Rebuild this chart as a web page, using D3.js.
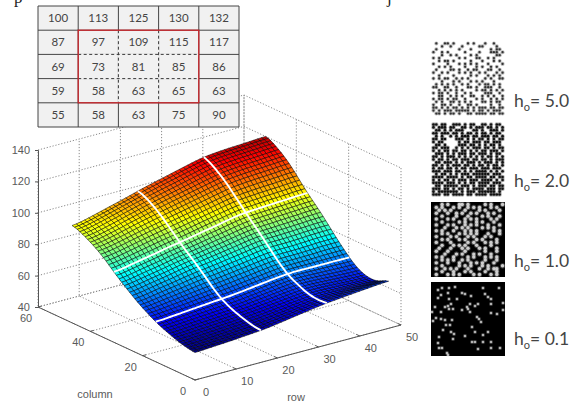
<!DOCTYPE html>
<html>
<head>
<meta charset="utf-8">
<script src="https://cdn.jsdelivr.net/npm/d3@7"></script>
<style>
  html, body { margin: 0; padding: 0; background: #fff; overflow: hidden; }
  svg { display: block; }
</style>
</head>
<body>
<svg id="fig" width="571" height="401"></svg>
<script>
// values printed in the small table
const tableValues = [
  [100, 113, 125, 130, 132],
  [87, 97, 109, 115, 117],
  [69, 73, 81, 85, 86],
  [59, 58, 63, 65, 63],
  [55, 58, 63, 75, 90]
]

// ticks of the 3d box
const zTicks = [40, 60, 80, 100, 120, 140]
const rowTicks = [0, 10, 20, 30, 40, 50]
const colTicks = [0, 20, 40, 60]

// indices of the white lines on the surface
const whiteRows = [16, 32]
const whiteCols = [15, 31]

// surface height, one line per column index, one value per row index
const surface = [
  [57,57,57,58,58,58,58,58,58,59,59,59,59,60,60,60,60,60,61,61,62,62,63,63,64,64,65,65,65,66,66,67,67,67,68,68,68,69,69,69,70,70,70,71,71,71,72,72],
  [57,57,57,58,58,58,58,58,58,59,59,59,59,60,60,60,60,60,61,61,62,62,62,63,63,64,64,65,65,66,66,67,67,67,67,68,68,68,68,69,69,69,69,69,70,70,70,70],
  [58,58,58,58,59,59,59,59,59,59,59,59,60,60,60,60,60,60,61,61,62,62,62,63,63,63,64,64,65,65,65,66,66,66,66,67,67,67,67,67,68,68,68,68,68,69,69,69],
  [58,58,58,59,59,59,59,59,60,60,60,60,60,60,61,61,61,61,62,62,62,62,63,63,63,64,64,64,65,65,65,66,66,66,66,66,66,66,66,66,67,67,67,67,67,67,67,67],
  [58,58,58,59,59,59,59,59,60,60,60,60,60,60,61,61,61,61,62,62,62,62,63,63,63,64,64,64,65,65,65,66,66,66,66,66,66,66,66,66,66,66,66,66,66,66,66,66],
  [59,59,59,60,60,60,60,60,60,61,61,61,61,61,62,62,62,62,62,63,63,63,63,64,64,64,64,65,65,65,65,66,66,66,66,66,66,66,66,66,66,66,66,66,66,66,66,66],
  [59,59,59,60,60,60,60,60,60,61,61,61,61,62,62,62,62,62,63,63,63,63,64,64,64,65,65,65,66,66,66,67,67,67,67,67,67,67,67,66,66,66,66,66,66,66,66,66],
  [60,60,60,61,61,61,61,61,62,62,62,62,62,62,63,63,63,63,63,64,64,64,64,65,65,65,65,66,66,66,66,67,67,67,67,67,67,67,67,67,66,66,66,66,66,66,66,66],
  [60,60,60,61,61,61,61,61,62,62,62,62,62,62,63,63,63,63,64,64,64,64,65,65,65,66,66,66,67,67,67,68,68,68,68,68,68,67,67,67,67,67,67,66,66,66,66,66],
  [61,61,61,62,62,62,62,62,63,63,63,63,63,63,64,64,64,64,64,65,65,65,65,66,66,66,66,67,67,67,67,68,68,68,68,68,68,68,68,68,67,67,67,67,67,67,67,67],
  [62,62,62,62,63,63,63,63,63,63,63,63,64,64,64,64,64,64,65,65,65,65,66,66,66,67,67,67,68,68,68,69,69,69,69,69,69,68,68,68,68,68,68,67,67,67,67,67],
  [62,62,62,63,63,63,63,63,64,64,64,64,64,65,65,65,65,65,65,66,66,66,67,67,67,68,68,68,69,69,69,70,70,70,70,70,70,69,69,69,69,69,69,68,68,68,68,68],
  [63,63,63,64,64,64,64,64,65,65,65,65,65,66,66,66,66,66,66,67,67,67,68,68,68,69,69,69,70,70,70,71,71,71,71,71,71,70,70,70,70,70,70,69,69,69,69,69],
  [64,64,64,65,65,65,65,65,66,66,66,66,66,67,67,67,67,67,67,68,68,68,69,69,69,70,70,70,71,71,71,72,72,72,72,72,72,71,71,71,71,71,71,70,70,70,70,70],
  [64,64,64,65,65,65,65,65,66,66,66,66,66,67,67,67,67,67,67,68,68,68,69,69,69,70,70,70,71,71,71,72,72,72,72,72,72,72,72,72,72,72,72,72,72,72,72,72],
  [65,65,65,66,66,66,66,66,67,67,67,67,67,68,68,68,68,68,68,69,69,69,70,70,70,71,71,71,72,72,72,73,73,73,73,73,73,73,73,73,73,73,73,73,73,73,73,73],
  [66,66,67,67,67,67,68,68,68,68,69,69,69,69,70,70,70,70,70,71,71,71,72,72,72,73,73,73,74,74,74,75,75,75,75,75,75,75,75,75,75,75,75,75,75,75,75,75],
  [67,67,68,68,68,68,69,69,69,69,70,70,70,70,71,71,71,71,71,72,72,72,73,73,73,74,74,74,75,75,75,76,76,76,76,76,76,76,76,76,76,77,77,77,77,77,77,77],
  [68,68,69,69,69,70,70,70,70,71,71,71,72,72,72,73,73,73,73,74,74,74,75,75,75,76,76,76,77,77,77,78,78,78,78,78,78,78,78,78,78,79,79,79,79,79,79,79],
  [69,69,70,70,70,71,71,71,71,72,72,72,73,73,73,74,74,74,75,75,76,76,76,77,77,77,78,78,79,79,79,80,80,80,80,80,80,80,80,80,80,80,80,80,80,80,80,80],
  [70,70,71,71,72,72,72,73,73,73,74,74,75,75,75,76,76,76,76,77,77,77,78,78,78,79,79,79,80,80,80,81,81,81,81,81,81,81,81,81,81,82,82,82,82,82,82,82],
  [71,71,72,72,73,73,74,74,75,75,75,76,76,77,77,78,78,78,78,79,79,79,80,80,80,81,81,81,82,82,82,83,83,83,83,83,83,83,83,83,83,84,84,84,84,84,84,84],
  [72,72,73,73,74,74,75,75,76,76,76,77,77,78,78,79,79,79,79,80,80,81,81,82,82,82,83,83,84,84,85,85,85,85,85,85,85,85,85,85,85,86,86,86,86,86,86,86],
  [73,73,74,75,75,76,76,77,77,77,78,79,79,80,80,81,81,81,81,82,82,83,83,84,84,84,85,85,86,86,87,87,87,87,87,87,87,87,87,87,87,88,88,88,88,88,88,88],
  [75,75,76,77,77,78,78,79,79,79,80,81,81,82,82,83,83,83,83,84,84,85,85,86,86,86,87,87,88,88,89,89,89,89,89,89,89,89,89,89,89,90,90,90,90,90,90,90],
  [76,76,77,78,78,79,79,80,80,80,81,82,82,83,83,84,84,84,84,85,85,86,86,87,87,87,88,88,89,89,90,90,90,90,90,90,90,91,91,91,91,91,91,91,92,92,92,92],
  [77,77,78,79,79,80,80,81,81,81,82,83,83,84,84,85,85,85,86,86,87,87,87,88,88,89,89,90,90,91,91,92,92,92,92,92,92,93,93,93,93,93,93,93,94,94,94,94],
  [79,79,80,81,81,82,82,83,83,83,84,85,85,86,86,87,87,87,88,88,89,89,89,90,90,91,91,92,92,93,93,94,94,94,94,94,94,95,95,95,95,95,95,95,96,96,96,96],
  [80,80,81,82,82,83,83,84,84,84,85,86,86,87,87,88,88,88,89,89,90,90,90,91,91,92,92,93,93,94,94,95,95,95,95,95,95,96,96,96,96,96,96,96,97,97,97,97],
  [81,81,82,83,83,84,84,85,85,85,86,87,87,88,88,89,89,89,90,90,91,92,92,93,93,93,94,95,95,96,96,97,97,97,97,97,97,98,98,98,98,98,98,98,99,99,99,99],
  [83,83,84,85,85,86,86,87,87,87,88,89,89,90,90,91,91,91,92,92,93,94,94,95,95,95,96,97,97,98,98,99,99,99,99,99,99,99,99,99,99,100,100,100,100,100,100,100],
  [84,84,85,86,86,87,87,88,88,88,89,90,90,91,91,92,92,92,93,93,94,95,95,96,96,96,97,98,98,99,99,100,100,100,100,100,100,101,101,101,101,101,101,101,102,102,102,102],
  [86,86,87,88,88,89,89,90,90,90,91,92,92,93,93,94,94,94,95,95,96,97,97,98,98,98,99,100,100,101,101,102,102,102,102,102,102,103,103,103,103,103,103,103,104,104,104,104],
  [87,88,88,89,89,90,90,91,92,92,93,93,94,94,95,95,96,96,97,97,98,99,99,100,100,100,101,102,102,103,103,104,104,104,104,104,104,105,105,105,105,105,105,105,106,106,106,106],
  [89,90,90,91,91,92,92,93,94,94,95,95,96,96,97,97,98,98,99,99,100,101,101,102,102,102,103,104,104,105,105,106,106,106,106,106,106,107,107,107,107,107,107,107,108,108,108,108],
  [90,91,91,92,92,93,93,94,95,95,96,96,97,97,98,98,99,99,100,100,101,101,102,102,103,104,104,105,105,106,106,107,108,108,108,108,108,109,109,109,109,109,109,109,110,110,110,110],
  [92,93,93,94,94,95,95,96,97,97,98,98,99,99,100,100,101,101,102,102,103,103,104,104,105,106,106,107,107,108,108,109,110,110,110,110,110,111,111,111,111,111,111,111,112,112,112,112],
  [93,94,94,95,95,96,96,97,98,98,99,99,100,100,101,101,102,103,103,104,104,105,105,106,107,107,108,108,109,109,110,111,112,112,112,112,112,113,113,113,113,113,113,113,114,114,114,114],
  [94,95,95,96,96,97,98,98,99,100,100,101,102,102,103,103,104,105,105,106,106,107,107,108,108,109,109,110,110,111,111,112,113,113,113,114,114,114,114,114,115,115,115,115,115,116,116,116],
  [95,96,96,97,97,98,99,99,100,101,101,102,103,103,104,104,105,106,106,107,107,108,109,109,110,110,111,112,112,113,113,114,115,115,115,116,116,116,116,116,117,117,117,117,117,118,118,118],
  [96,97,97,98,99,99,100,101,101,102,103,104,104,105,106,106,107,108,108,109,109,110,111,111,112,112,113,114,114,115,115,116,117,117,117,117,117,118,118,118,118,118,118,118,119,119,119,119],
  [97,98,98,99,100,100,101,102,102,103,104,105,105,106,107,107,108,109,109,110,110,111,112,112,113,113,114,115,115,116,116,117,118,118,118,118,118,119,119,119,119,119,119,119,120,120,120,120],
  [98,99,99,100,101,101,102,103,103,104,105,106,106,107,108,108,109,110,110,111,111,112,113,113,114,114,115,116,116,117,117,118,119,119,119,119,119,120,120,120,120,120,120,120,121,121,121,121],
  [99,100,100,101,102,102,103,104,104,105,106,107,107,108,109,109,110,111,111,112,112,113,114,114,115,115,116,117,117,118,118,119,120,120,120,121,121,121,121,121,122,122,122,122,122,123,123,123],
  [100,101,101,102,103,103,104,105,105,106,107,108,108,109,110,110,111,112,112,113,113,114,115,115,116,116,117,118,118,119,119,120,121,121,121,122,122,122,122,122,123,123,123,123,123,124,124,124],
  [100,101,102,102,103,104,104,105,106,107,107,108,109,109,110,111,112,113,113,114,115,115,116,117,117,118,119,119,120,121,121,122,123,123,123,123,123,124,124,124,124,124,124,124,125,125,125,125],
  [101,102,103,103,104,105,105,106,107,108,108,109,110,110,111,112,113,114,114,115,116,116,117,118,118,119,120,120,121,122,122,123,124,124,124,124,124,125,125,125,125,125,125,125,126,126,126,126],
  [102,103,104,104,105,106,106,107,108,109,109,110,111,111,112,113,114,115,115,116,117,117,118,119,119,120,121,121,122,123,123,124,125,125,125,125,125,126,126,126,126,126,126,126,127,127,127,127]
]

// speckle panels, one character per small spot, # is black
const speckle50 = [
  '.#..##.#....#.#...#..#...',
  '...#..#...#.....##....#..',
  '.#.......#...#......#.##.',
  '#..#.#.....#....#...###.#',
  '...#..#.#....#.#......##.',
  '#.#......#.#...##..#.#...',
  '..#.##.#.....#...#...#.#.',
  '#....#...#.#.#.#...#....#',
  '..#.#.#....#...#.#..#.#..',
  '.#....##.#..#.##...##..#.',
  '#..#.#...#.#.#..#.#...#.#',
  '..#....#.....#.#...#.#.#.',
  '#.#.##..#.#.#.....#.#..##',
  '...#...#.#...#.#.#...#...',
  '.#.#.#.#..#.#...#.##.#.#.',
  '##..##..#...##.#..###..#.',
  '..#.#.#.#.#....#.##.#.#.#',
  '#.##.#..#..#.#....###..#.',
  '..##..#.#.#..##..#.#.#..#',
  '#.##.#.##..#...#.#..#.#.#',
  '.#.#..##.#.#.#...##.#.##.',
  '#..##.#..#..##.#....#..#.',
  '##.#.#.##.#.#.#.###.##.##',
  '#.#.###.#####.#.##.#.###.',
  '.##.#.##.#..##.####.##.##'
]
const speckle20 = [
  '##.##..###.#.##..##.#.##.',
  '#.###.##..##.#.###.##.#.#',
  '.##.#.#.###...##.#..###.#',
  '##.###.##.#.##.#.##.#.##.',
  '.#.#..#.#.###.##.###.##.#',
  '##.##...###.#.#.##.#.#.##',
  '#.##.....#.##.###.##.###.',
  '.##.#....###.##.#.#.##.#.',
  '##.###..#.#.#.###.##.#.##',
  '#.#.##.##.##.#.#.##.###.#',
  '.###.#.#.###.##.###.#.##.',
  '##.#.###.#.#.#.#.#.##.#.#',
  '#.##.#.##.###.##.##.#.###',
  '.##.###.#.#.###.#.###.#.#',
  '##.#.#.###.##.#.##.#.##.#',
  '#.##.##.#.##.###.###.###.',
  '###.###.##.#.#.####.#.#.#',
  '.#.##.#.#.###.######.###.',
  '####.####.#.##.####.##.##',
  '#.#.##.#.###.###.####.#.#',
  '####.###.#.#.##.####.###.',
  '.##.#####.###.#.###.##.##',
  '###.##.#.##.#.####.###.##',
  '#.#######.#.###.######.#.',
  '###.##.####.##.####.####.'
]
const speckle10 = [
  '###.#.###..#.#####.#.###.',
  '#.#.###.#.##.#.#.###.#.##',
  '##.#.#.####.####.#.####.#',
  '#.###.##.#.##.#.###.#.###',
  '###.####.###.####.#.###.#',
  '#.###.#.###.#.#.####.#.##',
  '###.#####.#.###.#.###.###',
  '#.###.#.###.#.#.###.###.#',
  '####.###.#.#.####.#.#.###',
  '#.#.###.###.#.#.#####.#.#',
  '###.#.###.#.#.#.###.###.#',
  '#.####.#.###.#.###.#.####',
  '###.#.###.#.###.#.####.##',
  '#.####.#####.#.###.#.#.##',
  '###.###.#.#.###.####.####',
  '##.###.###.#.###.#.###.##',
  '#.###.#####.######.###.##',
  '####.###.#.###.#.###.####',
  '#.#.###.####.#.###.#.#.##',
  '###.#.#.##.#.#####.###.##',
  '#.###.###.###.#.#.###.###',
  '###.#####.#.#.###.#.####.',
  '#.##.#.#.###.###.##.#..##',
  '###.###.###.#.####.###.##',
  '#.###.#.#.####.#.###.#.##'
]

// bright dots of the last panel, in panel pixels
const dots01 = [
  [7,8], [11,6], [18,6], [24,5], [52,6], [68,6], [10,13], [17,11], [31,11], [34,12], [40,14], [54,12],
  [57,15], [60,17], [7,16], [18,17], [26,17], [4,25], [1,30], [14,25], [17,24], [20,22], [22,27], [18,27],
  [10,30], [31,28], [36,25], [39,22], [44,24], [47,22], [37,27], [39,30], [60,22], [72,21], [72,28], [60,31],
  [66,32], [2,39], [5,36], [10,37], [14,38], [21,38], [15,43], [19,43], [46,35], [48,37], [50,40], [41,45],
  [12,48], [20,50], [23,52], [44,50], [57,50], [52,53], [34,54], [22,57], [8,55], [7,61], [41,60], [44,60],
  [52,60], [60,60], [8,66], [11,66], [47,67], [60,66], [69,66], [16,71], [17,73]
]

const speckleLabels = ['5.0', '2.0', '1.0', '0.1']

// the projection of the box, all measured from its front corner
const rowX = d3.scaleLinear().domain([0, 50]).range([0, 206])
const rowY = d3.scaleLinear().domain([0, 50]).range([0, -55])
const colX = d3.scaleLinear().domain([0, 60]).range([0, -157])
const colY = d3.scaleLinear().domain([0, 60]).range([0, -73])
const zY = d3.scaleLinear().domain([40, 140]).range([0, -157])

const jet = d3.scaleLinear()
  .domain([57, 65, 83, 102, 121, 130])
  .range(['#00007f', '#0000ff', '#00ffff', '#ffff00', '#ff0000', '#7f0000'])
  .clamp(true)

const originX = 195
const originY = 380

// the heights above are whole numbers, d3.blur2 takes the rounding steps out of the mesh
const meshSize = surface[0].length
const heights = Float64Array.from(surface.flat())
d3.blur2({ data: heights, width: meshSize }, 1.5)

/**
 * Gives the height to draw at one node of the mesh.
 *
 * @param {number} c The column index
 * @param {number} r The row index
 * @returns {number} The height
 */
function heightAt (c, r) {
  return heights[c * meshSize + r]
}

/**
 * Projects a point of the box on the page.
 *
 * @param {number} r The row
 * @param {number} c The column
 * @param {number} z The height
 * @returns {number[]} The x and y position
 */
function project (r, c, z) {
  return [originX + rowX(r) + colX(c), originY + rowY(r) + colY(c) + zY(z)]
}

/**
 * Draws the dotted walls and floor of the box.
 *
 * @param {*} g The group to draw in
 */
function drawBox (g) {
  const line = d3.line()
  const grid = []
  zTicks.forEach(z => {
    grid.push([project(0, 60, z), project(50, 60, z), project(50, 0, z)])
  })
  rowTicks.forEach(r => {
    grid.push([project(r, 0, 40), project(r, 60, 40), project(r, 60, 140)])
  })
  colTicks.forEach(c => {
    grid.push([project(0, c, 40), project(50, c, 40), project(50, c, 140)])
  })
  g.selectAll('path.grid')
    .data(grid)
    .enter()
    .append('path')
    .attr('class', 'grid')
    .attr('d', line)
    .attr('fill', 'none')
    .attr('stroke', '#8a8a8a')
    .attr('stroke-width', 1)
    .attr('stroke-dasharray', '1.2,1.8')
}

/**
 * Draws the mesh of the surface, from the back corner to the front one.
 *
 * @param {*} g The group to draw in
 */
function drawSurface (g) {
  const cells = []
  for (let c = surface.length - 2; c >= 0; c--) {
    for (let r = meshSize - 2; r >= 0; r--) {
      const corners = [heightAt(c, r), heightAt(c, r + 1), heightAt(c + 1, r + 1), heightAt(c + 1, r)]
      cells.push({
        mean: d3.mean(corners),
        points: [
          project(r, c, corners[0]),
          project(r + 1, c, corners[1]),
          project(r + 1, c + 1, corners[2]),
          project(r, c + 1, corners[3])
        ]
      })
    }
  }
  g.selectAll('path.cell')
    .data(cells)
    .enter()
    .append('path')
    .attr('class', 'cell')
    .attr('d', d => 'M' + d.points.join('L') + 'Z')
    .attr('fill', d => jet(d.mean))
    .attr('stroke', '#000')
    .attr('stroke-opacity', 0.62)
    .attr('stroke-width', 0.85)

  const line = d3.line().curve(d3.curveBasis)
  const paths = []
  whiteCols.forEach(c => {
    paths.push(d3.range(meshSize).map(r => project(r, c, heightAt(c, r))))
  })
  whiteRows.forEach(r => {
    paths.push(d3.range(surface.length).map(c => project(r, c, heightAt(c, r))))
  })
  g.selectAll('path.white')
    .data(paths)
    .enter()
    .append('path')
    .attr('class', 'white')
    .attr('d', line)
    .attr('fill', 'none')
    .attr('stroke', '#fff')
    .attr('stroke-width', 1.9)
}

/**
 * Draws the three axes of the box with their labels.
 *
 * @param {*} g The group to draw in
 */
function drawAxes (g) {
  const axisColor = '#555'
  const textColor = '#5a5a5a'
  const tickFont = '11px "Liberation Sans", sans-serif'
  const corner = project(0, 60, 40)

  const zAxis = d3.axisLeft(d3.scaleLinear().domain(zY.domain()).range([corner[1], corner[1] + zY(140)]))
    .tickValues(zTicks)
    .tickSize(3)
  const zGroup = g.append('g')
    .attr('transform', 'translate(' + corner[0] + ',0)')
    .call(zAxis)
  zGroup.selectAll('path, line').attr('stroke', axisColor)
  zGroup.selectAll('text')
    .attr('x', -8)
    .attr('fill', textColor)
    .style('font', tickFont)

  const lines = [
    [project(0, 60, 40), project(0, 0, 40)],
    [project(0, 0, 40), project(50, 0, 40)]
  ]
  rowTicks.forEach(r => {
    const p = project(r, 0, 40)
    lines.push([p, [p[0] + colX(1.2), p[1] + colY(1.2)]])
  })
  colTicks.forEach(c => {
    const p = project(0, c, 40)
    lines.push([p, [p[0] + rowX(0.8), p[1] + rowY(0.8)]])
  })
  g.selectAll('path.axis')
    .data(lines)
    .enter()
    .append('path')
    .attr('class', 'axis')
    .attr('d', d3.line())
    .attr('stroke', axisColor)
    .attr('stroke-width', 1)

  g.selectAll('text.row')
    .data(rowTicks)
    .enter()
    .append('text')
    .attr('class', 'row')
    .attr('x', d => project(d, 0, 40)[0] + 11)
    .attr('y', d => project(d, 0, 40)[1] + 16)
    .attr('text-anchor', 'middle')
    .attr('fill', textColor)
    .style('font', tickFont)
    .text(d => d)
  g.selectAll('text.col')
    .data(colTicks)
    .enter()
    .append('text')
    .attr('class', 'col')
    .attr('x', d => project(0, d, 40)[0] - 12)
    .attr('y', d => project(0, d, 40)[1] + 15)
    .attr('text-anchor', 'middle')
    .attr('fill', textColor)
    .style('font', tickFont)
    .text(d => d)

  g.append('text').attr('x', 95).attr('y', 398).attr('text-anchor', 'middle')
    .attr('fill', textColor).style('font', tickFont).text('column')
  g.append('text').attr('x', 296).attr('y', 401).attr('text-anchor', 'middle')
    .attr('fill', textColor).style('font', tickFont).text('row')
}

/**
 * Draws the small table with the red box around its middle cells.
 *
 * @param {*} g The group to draw in
 */
function drawTable (g) {
  const x = d3.scaleLinear().domain([0, 5]).range([38, 239])
  const y = d3.scaleLinear().domain([0, 5]).range([6, 127])
  const grid = d3.range(6)

  g.append('rect')
    .attr('x', x(0)).attr('y', y(0))
    .attr('width', x(5) - x(0)).attr('height', y(5) - y(0))
    .attr('fill', '#f1f1f1')

  g.selectAll('line.v').data(grid).enter().append('line').attr('class', 'v')
    .attr('x1', d => x(d)).attr('x2', d => x(d))
    .attr('y1', y(0)).attr('y2', y(5))
    .attr('stroke', '#454545').attr('stroke-width', 1)
  g.selectAll('line.h').data(grid).enter().append('line').attr('class', 'h')
    .attr('y1', d => y(d)).attr('y2', d => y(d))
    .attr('x1', x(0)).attr('x2', x(5))
    .attr('stroke', '#454545').attr('stroke-width', 1)

  // the inner lines are dashed
  g.selectAll('line.iv').data([2, 3]).enter().append('line').attr('class', 'iv')
    .attr('x1', d => x(d)).attr('x2', d => x(d))
    .attr('y1', y(1)).attr('y2', y(4))
    .attr('stroke', '#f1f1f1').attr('stroke-width', 1.6)
  g.selectAll('line.ih').data([2, 3]).enter().append('line').attr('class', 'ih')
    .attr('y1', d => y(d)).attr('y2', d => y(d))
    .attr('x1', x(1)).attr('x2', x(4))
    .attr('stroke', '#f1f1f1').attr('stroke-width', 1.6)
  g.selectAll('line.dv').data([2, 3]).enter().append('line').attr('class', 'dv')
    .attr('x1', d => x(d)).attr('x2', d => x(d))
    .attr('y1', y(1)).attr('y2', y(4))
    .attr('stroke', '#3a3a3a').attr('stroke-width', 1).attr('stroke-dasharray', '3,2.5')
  g.selectAll('line.dh').data([2, 3]).enter().append('line').attr('class', 'dh')
    .attr('y1', d => y(d)).attr('y2', d => y(d))
    .attr('x1', x(1)).attr('x2', x(4))
    .attr('stroke', '#3a3a3a').attr('stroke-width', 1).attr('stroke-dasharray', '3,2.5')

  g.append('rect')
    .attr('x', x(1)).attr('y', y(1))
    .attr('width', x(4) - x(1)).attr('height', y(4) - y(1))
    .attr('fill', 'none')
    .attr('stroke', '#c9252b')
    .attr('stroke-width', 1.3)

  const cells = tableValues.flatMap((row, i) => row.map((v, j) => ({ i, j, v })))
  g.selectAll('text.cell')
    .data(cells)
    .enter()
    .append('text')
    .attr('class', 'cell')
    .attr('x', d => x(d.j + 0.5))
    .attr('y', d => y(d.i + 0.5) + 4)
    .attr('text-anchor', 'middle')
    .attr('fill', '#444')
    .style('font', '11.5px Lato, sans-serif')
    .text(d => d.v)
}

/**
 * Draws soft round spots from a list of panel positions.
 *
 * @param {*} g The group to draw in
 * @param {object[]} spots The spots, with their cx and cy
 * @param {string} color The color of the spots
 * @param {number} radius The radius of the core of a spot
 */
function drawSpots (g, spots, color, radius) {
  const layers = [[radius + 0.9, 0.3], [radius, 0.9]]
  layers.forEach(layer => {
    g.append('g')
      .selectAll('circle')
      .data(spots)
      .enter()
      .append('circle')
      .attr('cx', d => d.cx)
      .attr('cy', d => d.cy)
      .attr('r', layer[0])
      .attr('fill', color)
      .attr('opacity', layer[1])
  })
}

/**
 * Draws one panel from its rows of characters.
 *
 * @param {*} g The group to draw in
 * @param {string[]} rows The rows of the panel
 * @param {number} top The top of the panel
 * @param {string} mark The character that gets a spot
 * @param {string} color The color of the spots
 * @param {number} radius The radius of the core of a spot
 */
function drawGrain (g, rows, top, mark, color, radius) {
  const x = d3.scaleLinear().domain([0, 25]).range([432, 504])
  const y = d3.scaleLinear().domain([0, 25]).range([top + 1, top + 74])
  const spots = rows.flatMap((row, i) => row.split('').map((s, j) => ({
    s,
    cx: x(j + 0.5),
    cy: y(i + 0.5)
  }))).filter(d => d.s === mark)
  drawSpots(g, spots, color, radius)
}

/**
 * Draws the four panels and their labels.
 *
 * @param {*} g The group to draw in
 */
function drawPanels (g) {
  const panelX = 431
  const panelSize = 74
  g.append('rect').attr('x', panelX).attr('y', 202).attr('width', panelSize).attr('height', 75).attr('fill', '#000')
  g.append('rect').attr('x', panelX).attr('y', 282).attr('width', panelSize).attr('height', panelSize).attr('fill', '#000')

  drawGrain(g, speckle50, 41, '#', '#222', 1.15)
  drawGrain(g, speckle20, 122, '#', '#000', 1.3)
  drawGrain(g, speckle10, 202, '.', '#ddd', 1.7)

  const x = d3.scaleLinear().domain([0, panelSize]).range([panelX, panelX + panelSize])
  const y = d3.scaleLinear().domain([0, panelSize]).range([282, 282 + panelSize])
  drawSpots(g, dots01.map(d => ({ cx: x(d[0]), cy: y(d[1]) })), '#ddd', 1.1)

  const baselines = [107, 187, 267, 345]
  const label = g.selectAll('text.label')
    .data(speckleLabels)
    .enter()
    .append('text')
    .attr('class', 'label')
    .attr('x', 514)
    .attr('y', (d, i) => baselines[i])
    .attr('fill', '#444')
    .style('font', '17.5px Lato, sans-serif')
  label.append('tspan').text('h')
  label.append('tspan').attr('dy', 4).style('font-size', '11px').text('o')
  label.append('tspan').attr('dy', -4).text(d => '= ' + d)
}

const svg = d3.select('#fig')
drawBox(svg.append('g'))
drawSurface(svg.append('g'))
drawAxes(svg.append('g'))
drawTable(svg.append('g'))
drawPanels(svg.append('g'))

// only the feet of the line above the figure are in frame
svg.append('text').attr('x', 14).attr('y', 3)
  .style('font', '17px "Liberation Serif", serif').attr('fill', '#222').text('p')
svg.append('text').attr('x', 387).attr('y', 3)
  .style('font', '17px "Liberation Serif", serif').attr('fill', '#222').text('j')
</script>
</body>
</html>
